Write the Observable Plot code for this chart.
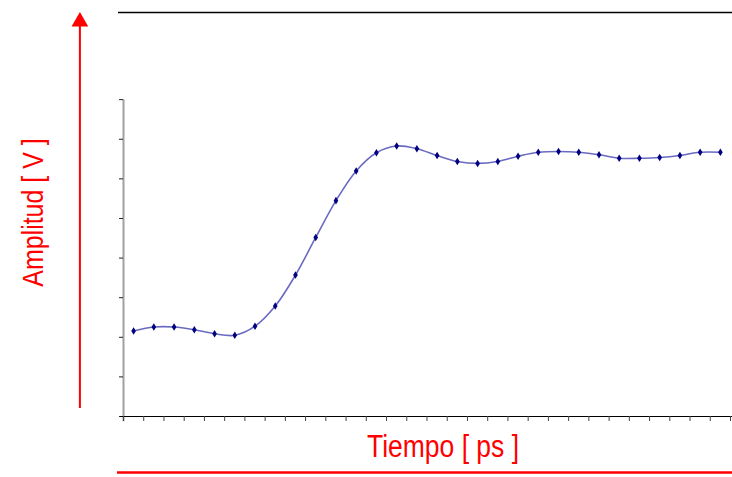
<!DOCTYPE html>
<html>
<head>
<meta charset="utf-8">
<script src="https://cdn.jsdelivr.net/npm/d3@7"></script>
<script src="https://cdn.jsdelivr.net/npm/@observablehq/plot@0.6"></script>
<style>
  html, body { margin: 0; padding: 0; background: #ffffff; }
  #chart { width: 732px; height: 477px; overflow: hidden; }
</style>
</head>
<body>
<div id="chart"></div>
<script>
// Sample index (category positions) and measured amplitude
const samples = d3.range(30);
const amplitude = [
  2.16, 2.26, 2.26, 2.19, 2.09, 2.05, 2.28, 2.79, 3.57, 4.52,
  5.45, 6.20, 6.66, 6.83, 6.76, 6.59, 6.44, 6.39, 6.44, 6.57,
  6.67, 6.69, 6.67, 6.61, 6.52, 6.52, 6.54, 6.59, 6.67, 6.67
];
const xTicks = d3.range(0, 31);
const yTicks = d3.range(0, 9);
const xLabel = "Tiempo [ ps ]";
const yLabel = "Amplitud [ V ]";

const data = samples.map((s, i) => ({x: s + 0.5, y: amplitude[i]}));
const yMax = 10.2;

const tallDiamond = {
  draw(ctx, size) {
    const r = Math.sqrt(size / Math.PI);
    ctx.moveTo(0, -r * 1.45);
    ctx.lineTo(r * 0.9, 0);
    ctx.lineTo(0, r * 1.45);
    ctx.lineTo(-r * 0.9, 0);
    ctx.closePath();
  }
};

const red = "#ff0000";
const font = "Arial, 'Liberation Sans', sans-serif";

const chart = Plot.plot({
  width: 732,
  height: 477,
  marginLeft: 123,
  marginRight: 2,
  marginTop: 12,
  marginBottom: 61,
  style: {background: "#ffffff", fontFamily: font, overflow: "visible"},
  x: {domain: [0, 30], axis: null},
  y: {domain: [0, yMax], axis: null},
  marks: [
    // top frame line
    Plot.ruleY([yMax], {stroke: "#000", strokeWidth: 1.5, insetLeft: -5, insetRight: -2}),
    // y axis line (gray)
    Plot.ruleX([0], {y1: -0.13, y2: 8, stroke: "#a0a0a0", strokeWidth: 2}),
    Plot.axisY({ticks: yTicks, tickSize: 4, tickFormat: () => "", label: null, stroke: "#222"}),
    // x axis line and ticks
    Plot.ruleY([0], {stroke: "#000", strokeWidth: 1.2, insetLeft: -3, insetRight: -2}),
    Plot.axisX({ticks: xTicks, tickSize: 5, tickFormat: () => "", label: null, stroke: "#444", anchor: "bottom"}),
    // data
    Plot.line(data, {x: "x", y: "y", curve: "catmull-rom", stroke: "#6a6ac2", strokeWidth: 1.6}),
    Plot.dot(data, {x: "x", y: "y", symbol: tallDiamond, r: 2.6, fill: "#000080", stroke: "none"}),
    // red arrow on the left
    Plot.ruleX([0], {y1: 0.2, y2: yMax - 0.3, dx: -43.6, stroke: red, strokeWidth: 2}),
    Plot.dot([yMax], {y: d => d, frameAnchor: "left", dx: -43.6, dy: 9.2, symbol: "triangle", r: 6.2, fill: red, stroke: "none"}),
    // bottom red line
    Plot.ruleY([0], {dy: 56, stroke: red, strokeWidth: 2.5, insetLeft: -6, insetRight: -2}),
    // labels
    Plot.text([xLabel], {frameAnchor: "bottom", dx: 16, dy: 40, fill: red, fontSize: 26.5, fontFamily: font, textAnchor: "middle", className: "stretch-label"}),
    Plot.text([yLabel], {frameAnchor: "left", dx: -90, dy: -2, rotate: -90, fill: red, fontSize: 25, fontFamily: font, textAnchor: "middle", className: "stretch-label"})
  ]
});

// glyphs in the reference are taller (perpendicular to the text) than plain Arial
chart.querySelectorAll(".stretch-label text").forEach(t => {
  const tr = t.getAttribute("transform") || "";
  t.setAttribute("transform", tr + " scale(1,1.17)");
});

document.getElementById("chart").appendChild(chart);
</script>
</body>
</html>
